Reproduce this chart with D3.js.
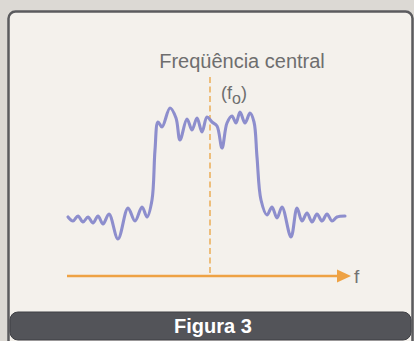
<!DOCTYPE html>
<html>
<head>
<meta charset="utf-8">
<script src="https://cdn.jsdelivr.net/npm/d3@7"></script>
<style>
  html, body { margin: 0; padding: 0; background: #dcd9d4; }
  svg { display: block; }
</style>
</head>
<body>
<svg id="chart" width="414" height="341"></svg>
<script>
// Frequency offsets from the centre frequency (f0 = 0), arbitrary units
const freq = [-142, -137, -132, -127, -122, -117, -112, -107, -101, -92,
              -82, -75, -68, -63, -58, -55, -52, -48, -40, -34,
              -30, -23, -18, -13, -8, -3, 2, 7, 12, 17,
              22, 26, 30, 35, 40, 44, 47, 51, 57, 62,
              67, 72, 81, 87, 92, 97, 102, 107, 112, 117,
              122, 127, 135];
// Response amplitude at each frequency, arbitrary units
const amplitude = [59, 55, 60, 54, 59, 53, 60, 52, 62, 37,
                   68, 55, 69, 59, 76, 126, 154, 149, 168, 158,
                   136, 157, 146, 158, 144, 159, 154, 150, 128, 153,
                   160, 153, 164, 153, 163, 154, 119, 76, 61, 69,
                   58, 69, 39, 68, 55, 63, 54, 62, 55, 62,
                   55, 59, 60];
const freqDomain = [-143, 140];
const ampDomain = [0, 170];
const centreFreq = 0;

const titleText = "Freqüência central";
const axisLabel = "f";
const captionText = "Figura 3";

const svg = d3.select("#chart");

// Card panel
svg.append("rect")
  .attr("x", 8.5).attr("y", 11.5)
  .attr("width", 404).attr("height", 345)
  .attr("rx", 7)
  .attr("fill", "#f4f1ec")
  .attr("stroke", "#5b5b5e")
  .attr("stroke-width", 2.5);

const x = d3.scaleLinear().domain(freqDomain).range([67, 350]);
const y = d3.scaleLinear().domain(ampDomain).range([276, 106]);

const orange = "#eea244";

// Centre-frequency marker
svg.append("line")
  .attr("x1", x(centreFreq)).attr("x2", x(centreFreq))
  .attr("y1", 77).attr("y2", y(0))
  .attr("stroke", "#eaa84c")
  .attr("stroke-width", 1.4)
  .attr("stroke-dasharray", "6,3.5");

// Frequency axis with arrowhead
const x0 = x(freqDomain[0]), x1 = x(freqDomain[1]);
svg.append("line")
  .attr("x1", x0).attr("x2", x1 - 11)
  .attr("y1", y(0)).attr("y2", y(0))
  .attr("stroke", orange)
  .attr("stroke-width", 2.5);
svg.append("path")
  .attr("d", `M${x1 - 13},${y(0) - 6.5} L${x1 + 1},${y(0)} L${x1 - 13},${y(0) + 6.5} Z`)
  .attr("fill", orange);

svg.append("text")
  .attr("x", x1 + 4).attr("y", y(0) + 7)
  .attr("font-family", "Liberation Sans, Arial, sans-serif")
  .attr("font-size", 19)
  .attr("fill", "#727272")
  .text(axisLabel);

// Response curve
const data = freq.map((f, i) => ({ f, a: amplitude[i] }));
const line = d3.line()
  .x(d => x(d.f))
  .y(d => y(d.a))
  .curve(d3.curveCatmullRom.alpha(0.5));

svg.append("path")
  .datum(data)
  .attr("d", line)
  .attr("fill", "none")
  .attr("stroke", "#8d8ecd")
  .attr("stroke-width", 3.1)
  .attr("stroke-linejoin", "round")
  .attr("stroke-linecap", "round");

// Labels
svg.append("text")
  .attr("x", 242).attr("y", 68)
  .attr("text-anchor", "middle")
  .attr("font-family", "Liberation Sans, Arial, sans-serif")
  .attr("font-size", 20)
  .attr("fill", "#6e6e6e")
  .text(titleText);

const f0 = svg.append("text")
  .attr("x", 221).attr("y", 99)
  .attr("font-family", "Liberation Sans, Arial, sans-serif")
  .attr("font-size", 18)
  .attr("fill", "#6e6e6e");
f0.append("tspan").text("(f");
f0.append("tspan").attr("dy", 5).attr("font-size", 16).text("o");
f0.append("tspan").attr("dy", -5).text(")");

// Caption bar
svg.append("rect")
  .attr("x", 10).attr("y", 312)
  .attr("width", 401).attr("height", 28)
  .attr("rx", 8)
  .attr("fill", "#535459")
  .attr("stroke", "#3e3f44")
  .attr("stroke-width", 1);

svg.append("text")
  .attr("x", 213).attr("y", 333)
  .attr("text-anchor", "middle")
  .attr("font-family", "Liberation Sans, Arial, sans-serif")
  .attr("font-weight", "bold")
  .attr("font-size", 20)
  .attr("fill", "#ffffff")
  .text(captionText);
</script>
</body>
</html>
